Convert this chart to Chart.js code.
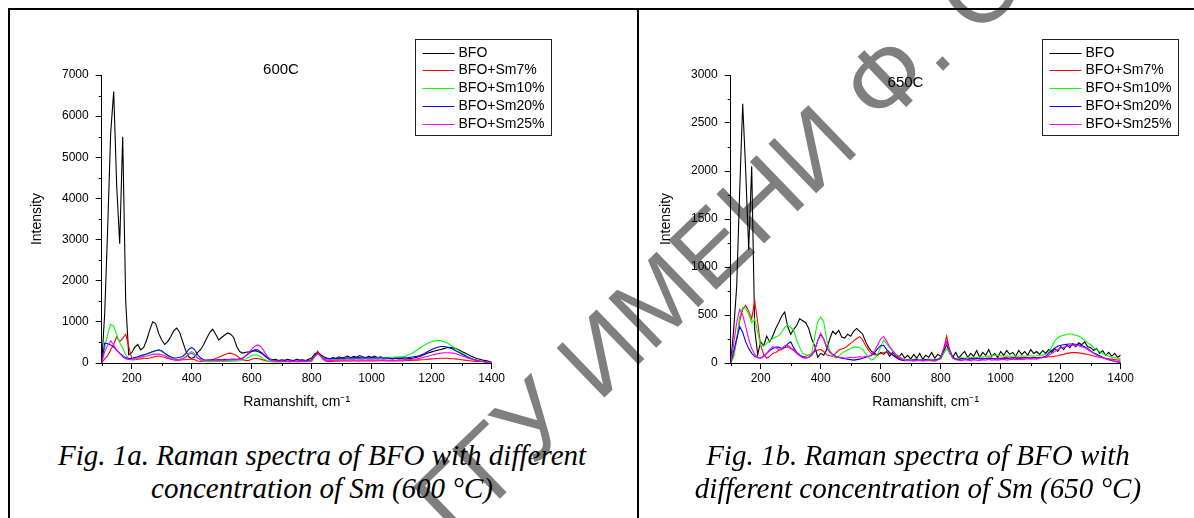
<!DOCTYPE html>
<html>
<head>
<meta charset="utf-8">
<script src="https://cdn.jsdelivr.net/npm/chart.js@4.4.0/dist/chart.umd.min.js"></script>
<style>
  body { margin: 0; width: 1194px; height: 518px; overflow: hidden; background: #fff; position: relative; }
  .wm { position: absolute; left: 455px; top: 450px; transform-origin: 0 92px; transform: rotate(-44deg);
        font: 100px "Liberation Sans", Arial, sans-serif; color: #7f7f7f; white-space: nowrap; z-index: 0; }
  canvas { position: absolute; top: 0; z-index: 2; }
  #c1 { left: 0; }
  #c2 { left: 629px; }
  .ln { position: absolute; background: #000; z-index: 1; }
  .cap { position: absolute; width: 600px; top: 439px; text-align: center; line-height: 36px; z-index: 3;
         font: italic 29px "Liberation Serif", "Times New Roman", serif; color: #000; }
</style>
</head>
<body>
<div class="wm">ГГУ ИМЕНИ Ф. СКОРИНЫ</div>
<div class="ln" style="left:8px;top:8px;width:1186px;height:2px"></div>
<div class="ln" style="left:8px;top:8px;width:2px;height:510px"></div>
<div class="ln" style="left:637px;top:8px;width:2px;height:510px"></div>
<canvas id="c1" width="630" height="430"></canvas>
<canvas id="c2" width="565" height="430"></canvas>
<div class="cap" style="left:22px">Fig. 1a. Raman spectra of BFO with different<br>concentration of Sm (600 °C)</div>
<div class="cap" style="left:618px">Fig. 1b. Raman spectra of BFO with<br>different concentration of Sm (650 °C)</div>
<script>
// Raman shift, cm-1 (shared by every series)
const shift = [
  100, 110, 120, 130, 140, 150, 160, 170, 180, 190,
  200, 210, 220, 230, 240, 250, 260, 270, 280, 290,
  300, 310, 320, 330, 340, 350, 360, 370, 380, 390,
  400, 410, 420, 430, 440, 450, 460, 470, 480, 490,
  500, 510, 520, 530, 540, 550, 560, 570, 580, 590,
  600, 610, 620, 630, 640, 650, 660, 670, 680, 690,
  700, 710, 720, 730, 740, 750, 760, 770, 780, 790,
  800, 810, 820, 830, 840, 850, 860, 870, 880, 890,
  900, 910, 920, 930, 940, 950, 960, 970, 980, 990,
  1000, 1010, 1020, 1030, 1040, 1050, 1060, 1070, 1080, 1090,
  1100, 1110, 1120, 1130, 1140, 1150, 1160, 1170, 1180, 1190,
  1200, 1210, 1220, 1230, 1240, 1250, 1260, 1270, 1280, 1290,
  1300, 1310, 1320, 1330, 1340, 1350, 1360, 1370, 1380, 1390,
  1400
]

const seriesNames = ["BFO", "BFO+Sm7%", "BFO+Sm10%", "BFO+Sm20%", "BFO+Sm25%"]
const seriesColors = ["#000000", "#ff0000", "#00ff00", "#0000ff", "#ff00ff"]

// 600C
const bfo600 = [
  0, 1200, 3300, 5600, 6600, 4300, 2900, 5500, 1500, 200,
  250, 380, 450, 320, 380, 560, 800, 1000, 960, 720,
  560, 450, 520, 640, 780, 850, 740, 520, 300, 150,
  110, 150, 260, 330, 450, 600, 740, 820, 700, 560,
  620, 680, 730, 700, 620, 400, 280, 240, 260, 270,
  290, 300, 280, 250, 200, 140, 100, 80, 90, 60,
  80, 65, 90, 70, 60, 90, 70, 80, 60, 90,
  120, 220, 260, 200, 150, 120, 100, 130, 110, 150,
  120, 140, 170, 130, 160, 140, 180, 150, 130, 160,
  140, 170, 130, 150, 120, 140, 110, 100, 120, 100,
  110, 90, 100, 110, 120, 140, 160, 190, 220, 250,
  270, 290, 310, 330, 350, 370, 380, 370, 350, 320,
  280, 250, 210, 170, 140, 110, 90, 70, 60, 40,
  20
]
const sm7_600 = [
  0, 100, 180, 320, 450, 640, 520, 600, 700, 400,
  120, 80, 90, 100, 120, 110, 120, 140, 160, 170,
  150, 140, 110, 90, 80, 70, 70, 80, 80, 90,
  100, 80, 50, 40, 40, 50, 60, 80, 110, 140,
  170, 200, 230, 240, 210, 180, 120, 80, 60, 60,
  90, 110, 110, 90, 70, 50, 40, 30, 30, 30,
  30, 35, 30, 25, 30, 35, 30, 30, 35, 30,
  50, 150, 290, 160, 70, 40, 45, 40, 50, 45,
  50, 55, 50, 45, 55, 50, 45, 55, 50, 55,
  50, 55, 50, 60, 55, 50, 55, 50, 55, 50,
  50, 55, 60, 60, 65, 70, 75, 80, 85, 95,
  100, 105, 110, 115, 115, 115, 110, 105, 100, 90,
  80, 70, 60, 50, 45, 40, 35, 30, 25, 20,
  15
]
const sm10_600 = [
  0, 380, 700, 940, 900, 690, 500, 360, 200, 100,
  70, 80, 120, 160, 190, 220, 240, 270, 300, 310,
  280, 230, 180, 130, 100, 80, 90, 110, 150, 230,
  280, 220, 120, 70, 40, 30, 35, 30, 40, 35,
  40, 45, 40, 50, 45, 50, 55, 60, 100, 140,
  180, 200, 190, 150, 100, 60, 40, 30, 35, 30,
  35, 30, 35, 40, 35, 30, 35, 40, 35, 40,
  60, 140, 220, 160, 80, 60, 70, 75, 80, 85,
  90, 95, 100, 100, 105, 110, 115, 115, 120, 120,
  120, 125, 125, 130, 130, 135, 140, 140, 145, 150,
  150, 160, 190, 220, 260, 310, 360, 410, 450, 490,
  520, 540, 550, 540, 520, 490, 450, 400, 350, 300,
  250, 200, 160, 120, 90, 70, 50, 40, 30, 20,
  10
]
const sm20_600 = [
  0, 490, 470, 440, 390, 310, 240, 180, 130, 110,
  110, 130, 150, 180, 200, 220, 250, 280, 300, 320,
  300, 240, 190, 150, 120, 120, 140, 160, 230, 330,
  380, 320, 200, 120, 80, 70, 75, 80, 70, 85,
  80, 90, 85, 90, 95, 90, 100, 120, 170, 230,
  280, 320, 320, 270, 200, 130, 80, 60, 55, 50,
  50, 45, 50, 55, 45, 50, 55, 50, 60, 55,
  80, 170, 240, 180, 100, 100, 110, 105, 115, 110,
  120, 115, 125, 120, 130, 125, 130, 120, 130, 125,
  130, 125, 120, 125, 115, 120, 115, 110, 115, 120,
  120, 125, 130, 140, 150, 160, 180, 210, 250, 290,
  330, 360, 385, 400, 400, 390, 370, 340, 300, 260,
  220, 180, 140, 110, 85, 65, 50, 35, 25, 15,
  5
]
const sm25_600 = [
  0, 280, 430, 540, 430, 320, 230, 150, 100, 85,
  90, 110, 120, 140, 160, 170, 190, 210, 220, 215,
  200, 180, 140, 100, 75, 75, 85, 100, 140, 210,
  240, 190, 120, 80, 60, 65, 70, 60, 70, 65,
  70, 65, 75, 70, 80, 75, 85, 110, 170, 250,
  330, 410, 440, 400, 300, 180, 100, 60, 45, 40,
  40, 35, 45, 40, 35, 40, 45, 35, 40, 45,
  70, 160, 230, 170, 80, 65, 70, 65, 75, 70,
  70, 75, 70, 80, 75, 70, 75, 80, 70, 75,
  75, 70, 75, 70, 75, 70, 65, 70, 65, 70,
  70, 75, 80, 85, 90, 100, 115, 130, 150, 170,
  190, 210, 225, 240, 248, 250, 245, 240, 225, 200,
  175, 150, 125, 100, 80, 60, 45, 35, 25, 15,
  10
]

// 650C
const bfo650 = [
  0, 350, 800, 1800, 2700, 2000, 1180, 2050, 350, 90,
  220, 180, 280, 220, 280, 360, 420, 490, 530, 380,
  300, 350, 390, 460, 440, 420, 360, 250, 180, 60,
  100, 80, 140, 250, 330, 300, 340, 270, 260, 300,
  280, 330, 360, 330, 300, 220, 160, 120, 100, 80,
  110, 90, 120, 70, 110, 80, 60, 100, 50, 80,
  40, 90, 50, 100, 40, 80, 60, 110, 50, 90,
  70, 120, 190, 100, 60, 110, 50, 90, 120, 60,
  100, 70, 130, 60, 110, 80, 140, 70, 100, 60,
  120, 80, 130, 90, 110, 70, 130, 90, 120, 80,
  140, 100, 120, 90, 130, 100, 140, 110, 150, 120,
  170, 140, 190, 160, 200, 170, 210, 190, 220, 170,
  160, 130, 150, 100, 130, 80, 110, 70, 100, 60,
  80
]
const sm7_650 = [
  0, 80, 240, 440, 560, 600, 540, 460, 650, 420,
  180, 90, 50, 70, 100, 110, 130, 140, 160, 170,
  150, 130, 100, 80, 65, 70, 80, 100, 120, 135,
  140, 120, 85, 75, 70, 100, 135, 145, 155, 180,
  205, 230, 255, 275, 240, 180, 130, 95, 85, 90,
  100, 110, 115, 100, 85, 70, 50, 40, 30, 35,
  30, 35, 40, 30, 35, 30, 40, 35, 30, 40,
  60, 150, 280, 120, 60, 45, 40, 50, 45, 40,
  50, 45, 55, 40, 50, 45, 55, 50, 45, 55,
  50, 55, 60, 50, 55, 60, 55, 60, 55, 60,
  55, 60, 55, 60, 60, 60, 65, 65, 70, 75,
  85, 90, 100, 105, 108, 108, 105, 100, 95, 88,
  80, 72, 65, 60, 55, 50, 45, 40, 35, 32,
  30
]
const sm10_650 = [
  0, 60, 250, 480, 580, 570, 510, 420, 460, 320,
  180, 180, 205, 230, 255, 270, 285, 320, 370, 395,
  370, 340, 240, 160, 100, 85, 80, 100, 270, 430,
  480, 430, 240, 130, 80, 50, 70, 100, 120, 135,
  150, 165, 165, 160, 140, 100, 55, 30, 45, 90,
  170, 240, 200, 160, 120, 90, 70, 50, 35, 30,
  35, 30, 40, 35, 30, 35, 40, 30, 35, 40,
  40, 100, 150, 110, 50, 45, 50, 55, 50, 60,
  55, 60, 55, 65, 60, 70, 70, 75, 80, 80,
  75, 70, 75, 70, 70, 75, 70, 75, 70, 75,
  75, 70, 75, 80, 80, 90, 110, 170, 230, 260,
  280, 290, 300, 305, 300, 290, 280, 260, 240, 210,
  190, 160, 140, 120, 100, 85, 70, 60, 55, 50,
  45
]
const sm20_650 = [
  0, 130, 250, 380, 320, 220, 150, 100, 70, 55,
  50, 70, 100, 130, 150, 165, 165, 150, 165, 200,
  220, 160, 110, 85, 65, 50, 60, 80, 130, 230,
  300, 250, 160, 115, 90, 70, 60, 50, 45, 40,
  35, 30, 35, 40, 50, 60, 70, 80, 110, 150,
  180, 185, 140, 110, 80, 60, 40, 30, 25, 30,
  25, 30, 35, 25, 30, 35, 30, 25, 30, 35,
  50, 140, 220, 140, 60, 40, 35, 45, 40, 35,
  45, 40, 50, 45, 40, 50, 45, 50, 45, 40,
  45, 50, 45, 50, 55, 50, 45, 50, 55, 50,
  50, 55, 50, 55, 60, 70, 100, 130, 155, 175,
  185, 190, 195, 198, 198, 195, 190, 180, 170, 150,
  125, 105, 90, 75, 60, 45, 35, 25, 15, 10,
  5
]
const sm25_650 = [
  0, 200, 420, 560, 500, 380, 250, 150, 90, 60,
  50, 75, 100, 140, 170, 160, 140, 150, 180, 185,
  160, 140, 100, 75, 55, 50, 60, 85, 140, 230,
  310, 250, 170, 115, 85, 65, 55, 60, 50, 55,
  60, 55, 60, 65, 60, 70, 65, 90, 130, 190,
  250, 275, 225, 170, 130, 90, 65, 45, 30, 25,
  30, 20, 25, 30, 20, 25, 30, 25, 20, 30,
  50, 150, 210, 130, 50, 35, 30, 25, 35, 30,
  25, 35, 30, 25, 35, 30, 40, 30, 35, 30,
  35, 40, 30, 35, 40, 35, 40, 35, 40, 45,
  40, 45, 40, 50, 55, 60, 80, 100, 120, 140,
  155, 165, 175, 182, 188, 185, 180, 170, 160, 140,
  120, 100, 80, 65, 55, 45, 35, 28, 20, 17,
  15
]

const xMajor = [200, 400, 600, 800, 1000, 1200, 1400]
const xMinor = [100, 300, 500, 700, 900, 1100, 1300]
const yMajor600 = [0, 1000, 2000, 3000, 4000, 5000, 6000, 7000]
const yMinor600 = [500, 1500, 2500, 3500, 4500, 5500, 6500]
const yMajor650 = [0, 500, 1000, 1500, 2000, 2500, 3000]
const yMinor650 = [250, 750, 1250, 1750, 2250, 2750]

Chart.defaults.font.family = '"Liberation Sans", Arial, sans-serif'
Chart.defaults.color = '#000'

// minor ticks, the temperature label and the boxed legend
const decor = {
  id: 'decor',
  afterDraw(chart, args, o) {
    let ctx = chart.ctx
    let a = chart.chartArea
    let x = chart.scales.x, y = chart.scales.y
    ctx.save()
    ctx.strokeStyle = '#000'
    ctx.lineWidth = 1
    ctx.beginPath()
    o.minorX.forEach(v => {
      let px = Math.round(x.getPixelForValue(v)) + 0.5
      ctx.moveTo(px, a.bottom)
      ctx.lineTo(px, a.bottom + 3)
    })
    o.minorY.forEach(v => {
      let py = Math.round(y.getPixelForValue(v)) + 0.5
      ctx.moveTo(a.left, py)
      ctx.lineTo(a.left - 3, py)
    })
    ctx.stroke()

    ctx.fillStyle = '#000'
    ctx.font = '15px "Liberation Sans", Arial, sans-serif'
    ctx.textAlign = 'center'
    ctx.textBaseline = 'middle'
    ctx.fillText(o.label, a.left + o.labelDx, o.labelY)

    let lx = Math.round(a.left + o.legendDx) + 0.5, ly = 39.5
    ctx.strokeStyle = '#222'
    ctx.strokeRect(lx, ly, 136, 96)
    ctx.font = '14px "Liberation Sans", Arial, sans-serif'
    ctx.textAlign = 'left'
    chart.data.datasets.forEach((ds, i) => {
      let yy = Math.round(ly + 13 + i * 17.8) + 0.5
      ctx.strokeStyle = ds.borderColor
      ctx.beginPath()
      ctx.moveTo(lx + 7, yy)
      ctx.lineTo(lx + 39, yy)
      ctx.stroke()
      ctx.fillText(ds.label, lx + 43, yy)
    })
    ctx.restore()
  }
}

function makePanel(id, series, yMax, yMajor, yMinor, label, labelDx, labelY, legendDx, padRight) {
  let datasets = series.map((vals, i) => ({
    label: seriesNames[i],
    data: shift.map((s, j) => ({ x: s, y: vals[j] })),
    borderColor: seriesColors[i],
    borderWidth: 1.1,
    pointRadius: 0,
    tension: 0,
    order: series.length - i
  }))
  return new Chart(document.getElementById(id), {
    type: 'line',
    data: { datasets: datasets },
    options: {
      responsive: false,
      animation: false,
      devicePixelRatio: 1,
      layout: { padding: { left: 25.1, top: 75, right: padRight, bottom: 15 } },
      plugins: {
        legend: { display: false },
        tooltip: { enabled: false },
        decor: { minorX: xMinor, minorY: yMinor, label: label, labelDx: labelDx, labelY: labelY, legendDx: legendDx }
      },
      scales: {
        x: {
          type: 'linear', min: 100, max: 1400,
          afterBuildTicks: s => { s.ticks = xMajor.map(v => ({ value: v })) },
          afterFit: s => { s.height = 52 },
          ticks: { font: { size: 12 }, color: '#000', padding: 2, maxRotation: 0, autoSkip: false, callback: v => String(v) },
          grid: { drawOnChartArea: false, drawTicks: true, tickLength: 6, tickColor: '#000' },
          border: { display: true, color: '#000', width: 1 },
          title: { display: true, text: 'Ramanshift, cm\u207B\u00B9', font: { size: 14 }, color: '#000', padding: { top: 0, bottom: 4 } }
        },
        y: {
          type: 'linear', min: 0, max: yMax,
          afterBuildTicks: s => { s.ticks = yMajor.map(v => ({ value: v })) },
          afterFit: s => { s.width = 76.6 },
          ticks: { font: { size: 12 }, color: '#000', padding: 7, callback: v => String(v) },
          grid: { drawOnChartArea: false, drawTicks: true, tickLength: 6, tickColor: '#000' },
          border: { display: true, color: '#000', width: 1 },
          title: { display: true, text: 'Intensity', font: { size: 14 }, color: '#000', padding: { top: 4, bottom: 4 } }
        }
      }
    },
    plugins: [decor]
  })
}

makePanel('c1', [bfo600, sm7_600, sm10_600, sm20_600, sm25_600], 7000, yMajor600, yMinor600, '600C', 179.3, 70, 313.3, 138.3)
makePanel('c2', [bfo650, sm7_650, sm10_650, sm20_650, sm25_650], 3000, yMajor650, yMinor650, '650C', 174.8, 82.7, 311.3, 73.3)
</script>
</body>
</html>
